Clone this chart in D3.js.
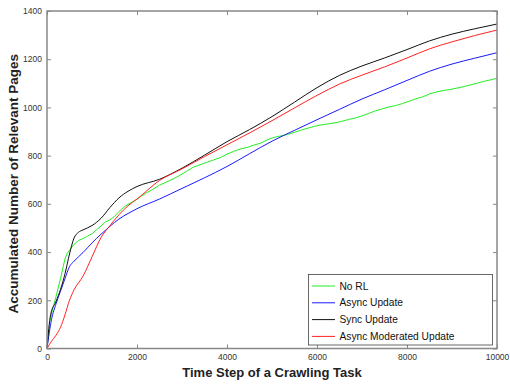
<!DOCTYPE html>
<html><head><meta charset="utf-8">
<script src="https://cdn.jsdelivr.net/npm/d3@7"></script>
<style>body{margin:0;background:#fff;font-family:"Liberation Sans",Arial,sans-serif;}</style>
</head><body>
<script>
const xTicks = [0,2000,4000,6000,8000,10000];
const yTicks = [0,200,400,600,800,1000,1200,1400];
const seriesNames = ["No RL","Async Update","Sync Update","Async Moderated Update"];
const seriesColors = ["#22ee22","#1a1aff","#111111","#ff2222"];

const noRL = [[0,0],[60,110],[120,160],[200,215],[300,290],[400,372],[450,395],[520,412],[600,432],[700,448],[800,456],[900,466],[1000,476],[1100,492],[1200,508],[1300,525],[1400,534],[1500,548],[1600,568],[1700,585],[1800,598],[1900,608],[2000,620],[2100,632],[2200,645],[2350,660],[2500,678],[2650,690],[2800,703],[2950,718],[3100,735],[3250,752],[3400,762],[3550,772],[3700,782],[3850,792],[4000,806],[4150,818],[4300,828],[4450,834],[4600,844],[4750,852],[4900,866],[5050,876],[5200,882],[5350,888],[5500,897],[5650,906],[5800,914],[5950,922],[6100,928],[6250,932],[6400,936],[6550,942],[6700,950],[6850,956],[7000,965],[7150,975],[7300,986],[7450,994],[7600,1002],[7750,1008],[7900,1016],[8050,1026],[8200,1036],[8350,1044],[8500,1056],[8650,1064],[8800,1070],[8950,1074],[9100,1080],[9250,1086],[9400,1093],[9550,1100],[9700,1108],[9850,1114],[10000,1121]];
const asyncUpd = [[0,0],[100,120],[200,185],[300,238],[400,290],[500,340],[600,362],[800,398],[1000,438],[1200,474],[1400,507],[1600,537],[1800,560],[2000,580],[2500,620],[3000,664],[3500,708],[4000,755],[4500,808],[5000,860],[5500,905],[6000,949],[6500,992],[7000,1035],[7500,1073],[8000,1112],[8500,1150],[9000,1180],[9500,1204],[10000,1227]];
const syncUpd = [[0,0],[80,140],[200,195],[300,245],[400,310],[500,392],[600,458],[700,482],[800,492],[1000,510],[1200,540],[1400,585],[1600,625],[1800,652],[2000,672],[2500,702],[3000,748],[3500,802],[4000,858],[4500,908],[5000,962],[5500,1022],[6000,1082],[6500,1133],[7000,1172],[7500,1205],[8000,1240],[8500,1276],[9000,1304],[9500,1326],[10000,1346]];
const asyncMod = [[0,0],[100,30],[200,55],[300,88],[400,140],[500,200],[600,243],[800,300],[1000,380],[1200,460],[1400,510],[1600,555],[1800,592],[2000,620],[2500,697],[3000,745],[3500,796],[4000,845],[4500,894],[5000,945],[5500,998],[6000,1050],[6500,1097],[7000,1134],[7500,1168],[8000,1205],[8500,1243],[9000,1272],[9500,1298],[10000,1321]];
const allSeries = [noRL, asyncUpd, syncUpd, asyncMod];

const W=510,H=385, L=47,R=497,T=11,B=348.5;
const svg=d3.select("body").append("svg").attr("width",W).attr("height",H);
const x=d3.scaleLinear().domain([0,10000]).range([L,R]);
const y=d3.scaleLinear().domain([0,1400]).range([B,T]);

const axCol="#888";
const gx=svg.append("g").attr("transform",`translate(0,${B})`)
  .call(d3.axisBottom(x).tickValues(xTicks).tickSizeInner(-4).tickSizeOuter(0).tickPadding(5).tickFormat(d3.format("d")));
const gy=svg.append("g").attr("transform",`translate(${L},0)`)
  .call(d3.axisLeft(y).tickValues(yTicks).tickSizeInner(-4).tickSizeOuter(0).tickPadding(5).tickFormat(d3.format("d")));
const gt=svg.append("g").attr("transform",`translate(0,${T})`)
  .call(d3.axisTop(x).tickValues(xTicks).tickSizeInner(-4).tickSizeOuter(0).tickFormat(""));
const gr=svg.append("g").attr("transform",`translate(${R},0)`)
  .call(d3.axisRight(y).tickValues(yTicks).tickSizeInner(-4).tickSizeOuter(0).tickFormat(""));
[gx,gy,gt,gr].forEach(g=>{
  g.select(".domain").remove();
  g.selectAll(".tick line").attr("stroke",axCol).attr("stroke-width",1);
  g.selectAll(".tick text").attr("fill","#333").style("font-size","8.5px").style("font-family","Liberation Sans, Arial, sans-serif");
});

const smooth=d3.line().x(d=>x(d[0])).y(d=>y(d[1])).curve(d3.curveMonotoneX);
const jag=d3.line().x(d=>x(d[0])).y(d=>y(d[1]));
const plot=svg.append("g");
allSeries.forEach((s,i)=>{
  plot.append("path").datum(s).attr("d",i===0?jag:smooth).attr("fill","none")
    .attr("stroke",seriesColors[i]).attr("stroke-width",1);
});

svg.append("rect").attr("x",L).attr("y",T).attr("width",R-L).attr("height",B-T)
  .attr("fill","none").attr("stroke",axCol).attr("stroke-width",1.5);

// legend
const lg=svg.append("g");
lg.append("rect").attr("x",308.5).attr("y",274.5).attr("width",184).attr("height",70.5)
  .attr("fill","#fff").attr("stroke","#444").attr("stroke-width",0.8);
seriesNames.forEach((n,i)=>{
  const yy=286+i*16.8;
  lg.append("line").attr("x1",312).attr("x2",335).attr("y1",yy).attr("y2",yy).attr("stroke",seriesColors[i]).attr("stroke-width",1);
  lg.append("text").attr("x",339.5).attr("y",yy+3.6).text(n).attr("fill","#111").style("font-size","10.2px");
});

svg.append("text").attr("x",(L+R)/2).attr("y",377).attr("text-anchor","middle")
  .style("font-size","13px").style("font-weight","bold").attr("fill","#222").text("Time Step of a Crawling Task");
svg.append("text").attr("transform",`translate(18,${(T+B)/2+4}) rotate(-90)`).attr("text-anchor","middle")
  .style("font-size","13.5px").style("font-weight","bold").attr("fill","#222").text("Accumulated Number of Relevant Pages");
</script>
</body></html>
